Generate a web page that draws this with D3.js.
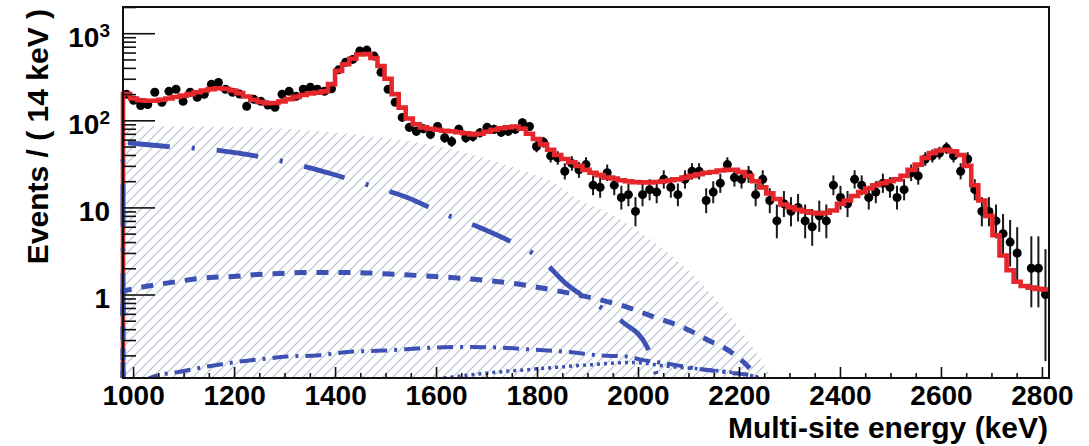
<!DOCTYPE html>
<html>
<head>
<meta charset="utf-8">
<script src="https://cdn.jsdelivr.net/npm/d3@7.9.0/dist/d3.min.js"></script>
<style>
  html, body { margin: 0; padding: 0; background: #fff; }
  svg text { font-family: "Liberation Sans", Arial, Helvetica, sans-serif; font-weight: bold; fill: #000; }
</style>
</head>
<body>
<svg id="chart" width="1089" height="446"></svg>
<script>
// histogram binning: 14 keV bins from 980 to 2814 keV
const binWidth = 14;
const binCenters = d3.range(987, 2814, binWidth);

// observed counts per bin (0 = empty bin, not drawn on log scale)
const counts = [
  199, 170, 148, 152, 210, 161, 215, 227, 165, 210,
  184, 199, 259, 272, 227, 210, 200, 145, 174, 165,
  150, 141, 199, 215, 189, 227, 240, 227, 215, 230,
  380, 464, 500, 626, 640, 548, 356, 227, 161, 108,
  83, 75, 80, 69, 85, 63, 57, 79, 63, 65,
  72, 83, 79, 73, 75, 79, 94, 85, 50, 56,
  39, 37, 26, 32, 27, 31, 18, 17, 25, 18,
  13, 14, 9, 14, 16, 15, 21, 17, 14, 21,
  26, 26, 12, 15, 19, 31, 22, 21, 24, 14,
  21, 12, 7, 11, 9, 10, 7, 6, 8, 7,
  18, 13, 11, 21, 18, 13, 15, 19, 17, 13,
  16, 25, 23, 36, 39, 42, 48, 39, 26, 36,
  16, 9, 9, 7, 5, 4, 3, 0, 2, 2,
  1
];

// total fit model per bin (red)
const fitValues = [
  200, 178, 170, 168, 168, 172, 178, 185, 192, 200,
  210, 220, 228, 233, 230, 220, 205, 188, 172, 162,
  157, 158, 165, 175, 186, 195, 203, 208, 215, 260,
  370, 440, 510, 570, 575, 520, 420, 300, 200, 140,
  105, 90, 83, 80, 78, 76, 75, 73, 71, 69,
  70, 74, 78, 81, 83, 85, 80, 70, 61, 53,
  46, 40, 36, 33, 30, 27, 25, 23.5, 22, 21.5,
  20.5, 20, 19.5, 19.4, 19.4, 19.6, 20, 20.5, 21, 22,
  23, 24, 25, 25.5, 26.5, 27, 27, 25.5, 23, 20,
  17, 14.5, 12.5, 10.8, 10, 9.4, 9, 8.7, 8.5, 8.7,
  9.2, 11, 12, 13.5, 15, 16.5, 18, 19, 20, 21,
  23, 27, 31, 37, 42, 45, 46, 44, 40, 30,
  18, 12, 8, 4.8, 2.8, 1.9, 1.4, 1.25, 1.2, 1.16,
  1.14
];

// hatched background component
const hatchE = [980, 1100, 1238, 1436, 1634, 1766, 1845, 1871, 1939, 2004, 2069, 2137, 2202, 2255, 2275];
const hatchV = [86, 85, 83, 69, 46, 27, 17.5, 13.4, 8.8, 5.2, 2.7, 1.14, 0.4, 0.14, 0.09];

// blue components
const comp1E = [980, 1069, 1158, 1242, 1325, 1396, 1475, 1543, 1608, 1683, 1750, 1810, 1855, 1911, 1970, 2018, 2040];
const comp1V = [56, 50, 46, 39, 31, 24, 17.4, 13, 8.8, 6, 4, 2.5, 1.37, 0.81, 0.48, 0.25, 0.1];

const comp2E = [980, 1030, 1073, 1152, 1198, 1246, 1291, 1337, 1430, 1523, 1568, 1653, 1701, 1741, 1780, 1826, 1939, 1974, 2008, 2044, 2077, 2109, 2143, 2168, 2198, 2228, 2245];
const comp2V = [1.1, 1.25, 1.37, 1.57, 1.61, 1.7, 1.74, 1.79, 1.79, 1.7, 1.65, 1.53, 1.45, 1.37, 1.27, 1.14, 0.83, 0.73, 0.62, 0.52, 0.45, 0.37, 0.29, 0.25, 0.19, 0.127, 0.09];

const comp3E = [1020, 1040, 1093, 1147, 1198, 1251, 1305, 1364, 1430, 1495, 1594, 1661, 1727, 1792, 1859, 1925, 1978, 2004, 2060, 2120, 2190, 2230, 2250];
const comp3V = [0.1, 0.114, 0.13, 0.149, 0.166, 0.18, 0.194, 0.2, 0.22, 0.227, 0.246, 0.25, 0.246, 0.233, 0.22, 0.2, 0.194, 0.18, 0.16, 0.14, 0.125, 0.115, 0.09];

const comp4E = [1560, 1628, 1700, 1800, 1900, 1990, 2057, 2120, 2188, 2230, 2250];
const comp4V = [0.1, 0.112, 0.125, 0.14, 0.155, 0.166, 0.15, 0.14, 0.127, 0.115, 0.09];

// axis ticks
const xMajor = [1000, 1200, 1400, 1600, 1800, 2000, 2200, 2400, 2600, 2800];
const yMajor = [1, 10, 100, 1000];
const yLabels = { 1: ['1', ''], 10: ['10', ''], 100: ['10', '2'], 1000: ['10', '3'] };

const eMin = 980, eMax = 2814, yMin = 0.11, yMax = 2000;

const svg = d3.select('#chart');
const pLeft = 123, pRight = 1049, pTop = 7, pBottom = 378;

const x = d3.scaleLinear().domain([eMin, eMax]).range([pLeft, pRight]);
const y = d3.scaleLog().domain([yMin, yMax]).range([pBottom, pTop]);

const red = '#e5262b';
const blue = '#3d50b3';

// defs: clip + hatch pattern
const defs = svg.append('defs');
defs.append('clipPath').attr('id', 'plotClip')
  .append('rect')
  .attr('x', pLeft - 3).attr('y', pTop)
  .attr('width', pRight - pLeft + 6).attr('height', pBottom - pTop);

const pat = defs.append('pattern')
  .attr('id', 'hatch')
  .attr('patternUnits', 'userSpaceOnUse')
  .attr('width', 10).attr('height', 10);
pat.append('path')
  .attr('d', 'M-1,1 l2,-2 M0,10 l10,-10 M9,11 l2,-2')
  .attr('stroke', '#b3c0cd')
  .attr('stroke-width', 1.15);

const plot = svg.append('g').attr('clip-path', 'url(#plotClip)');

// hatched area
const hatchData = hatchE.map((e, i) => [e, hatchV[i]]);
plot.append('path')
  .datum(hatchData)
  .attr('fill', 'url(#hatch)')
  .attr('d', d3.area()
    .x(d => x(d[0]))
    .y0(y(yMin))
    .y1(d => y(d[1]))
    .curve(d3.curveMonotoneX));

// axes
const axisG = svg.append('g');

const yAxis = axisG.append('g')
  .attr('transform', `translate(${pLeft},0)`)
  .call(d3.axisLeft(y).tickValues(yMajor).tickSizeInner(-32).tickSizeOuter(0).tickPadding(13).tickFormat(''));
const yMinorVals = [];
[0.1, 1, 10, 100, 1000].forEach(dec => {
  for (let k = 2; k <= 9; k++) {
    const v = dec * k;
    if (v > yMin && v <= yMax) yMinorVals.push(v);
  }
});
axisG.append('g')
  .attr('transform', `translate(${pLeft},0)`)
  .call(d3.axisLeft(y).tickValues(yMinorVals).tickSizeInner(-13).tickSizeOuter(0).tickFormat(''));

const xMinorVals = d3.range(1000, 2801, 50).filter(v => v % 200 !== 0);
const xAxis = axisG.append('g')
  .attr('transform', `translate(0,${pBottom})`)
  .call(d3.axisBottom(x).tickValues(xMajor).tickSizeInner(-11).tickSizeOuter(0).tickPadding(7).tickFormat(d3.format('d')));
axisG.append('g')
  .attr('transform', `translate(0,${pBottom})`)
  .call(d3.axisBottom(x).tickValues(xMinorVals).tickSizeInner(-5).tickSizeOuter(0).tickFormat(''));

axisG.selectAll('.domain').remove();
axisG.selectAll('.tick line').attr('stroke', '#111').attr('stroke-width', 1.6);

xAxis.selectAll('.tick text')
  .style('font-size', '28px')
  .attr('fill', '#000');

// y labels with superscripts
yAxis.selectAll('.tick').each(function (d) {
  const lab = yLabels[d];
  const t = d3.select(this).select('text')
    .attr('x', -13)
    .attr('dy', '0.36em')
    .attr('y', 3)
    .style('font-size', '28px')
    .attr('text-anchor', 'end')
    .text(null);
  t.append('tspan').text(lab[0]);
  if (lab[1]) {
    t.append('tspan')
      .attr('dy', '-0.5em')
      .style('font-size', '19px')
      .text(lab[1]);
  }
});

// frame
svg.append('rect')
  .attr('x', pLeft).attr('y', pTop)
  .attr('width', pRight - pLeft).attr('height', pBottom - pTop)
  .attr('fill', 'none')
  .attr('stroke', '#111')
  .attr('stroke-width', 2);

// data points with Poisson (Garwood-like) errors
const errLo = n => n * Math.pow(1 - 1 / (9 * n) - 1 / (3 * Math.sqrt(n)), 3);
const errHi = n => n + 1 + Math.sqrt(n + 0.75);
const points = binCenters.map((e, i) => ({ e, n: counts[i] })).filter(d => d.n > 0);

const dataG = plot.append('g');
dataG.selectAll('line.err')
  .data(points)
  .join('line')
  .attr('class', 'err')
  .attr('x1', d => x(d.e)).attr('x2', d => x(d.e))
  .attr('y1', d => y(Math.max(errLo(d.n), yMin * 0.5)))
  .attr('y2', d => y(errHi(d.n)))
  .attr('stroke', '#1a1a1a')
  .attr('stroke-width', 2);
dataG.selectAll('circle')
  .data(points)
  .join('circle')
  .attr('cx', d => x(d.e))
  .attr('cy', d => y(d.n))
  .attr('r', 4.5)
  .attr('fill', '#000');

// total fit as histogram steps
const fitSteps = [[eMin, yMin * 0.5]];
binCenters.forEach((e, i) => {
  fitSteps.push([e - binWidth / 2, fitValues[i]]);
  fitSteps.push([Math.min(e + binWidth / 2, eMax), fitValues[i]]);
});
plot.append('path')
  .datum(fitSteps)
  .attr('fill', 'none')
  .attr('stroke', red)
  .attr('stroke-width', 4.6)
  .attr('stroke-linejoin', 'miter')
  .attr('d', d3.line().x(d => x(d[0])).y(d => y(d[1])));

// blue components
const smooth = d3.line().x(d => x(d[0])).y(d => y(d[1])).curve(d3.curveMonotoneX);
function drawComp(es, vs, dash, width, fromEdge) {
  const pts = es.map((e, i) => [e, vs[i]]);
  let d = smooth(pts);
  if (fromEdge) {
    d = `M${x(es[0])},${y(yMin * 0.5)}L` + d.slice(1);
  }
  plot.append('path')
    .attr('d', d)
    .attr('fill', 'none')
    .attr('stroke', blue)
    .attr('stroke-width', width)
    .attr('stroke-dasharray', dash);
}
drawComp(comp1E, comp1V, '42,22,3,22', 4.8, true);
drawComp(comp2E, comp2V, '12,10', 5, true);
drawComp(comp3E, comp3V, '16,7,3,7', 4, false);
drawComp(comp4E, comp4V, '3,4', 3.5, false);

// axis titles
svg.append('text')
  .attr('transform', `translate(48,9) rotate(-90)`)
  .attr('text-anchor', 'end')
  .style('font-size', '30px')
  .text('Events / ( 14 keV )');

svg.append('text')
  .attr('x', 1048)
  .attr('y', 438)
  .attr('text-anchor', 'end')
  .style('font-size', '30px')
  .text('Multi-site energy (keV)');
</script>
</body>
</html>
